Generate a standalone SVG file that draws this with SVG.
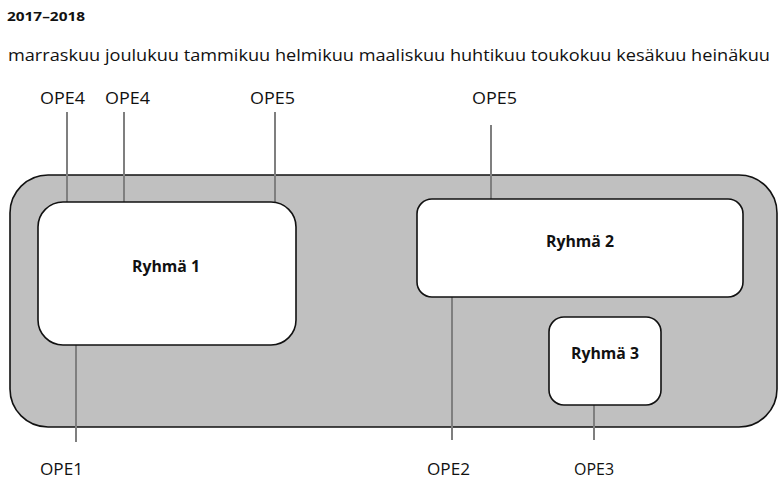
<svg xmlns="http://www.w3.org/2000/svg" width="780" height="481" viewBox="0 0 780 481">
<style>
text{font-family:"Open Sans","Liberation Sans",sans-serif;fill:#111}
.lbl{font-size:16px}
.box{fill:#fff;stroke:#111;stroke-width:1.6}
.bt{font-size:16px;font-weight:bold;text-anchor:middle}
.c{stroke:#7f7f7f;stroke-width:2;fill:none}
</style>
<rect width="780" height="481" fill="#fff"/>
<text x="7" y="21" font-size="13" font-weight="bold" textLength="78" lengthAdjust="spacingAndGlyphs">2017–2018</text>
<text x="8" y="61" font-size="17" textLength="762" lengthAdjust="spacingAndGlyphs">marraskuu joulukuu tammikuu helmikuu maaliskuu huhtikuu toukokuu kesäkuu heinäkuu</text>
<g id="container"><rect x="10" y="175" width="767" height="252" rx="38" ry="38" fill="#c0c0c0" stroke="#111" stroke-width="1.6"/></g>
<g id="connectors">
<line class="c" x1="67" y1="112" x2="67" y2="202"/>
<line class="c" x1="124" y1="112" x2="124" y2="202"/>
<line class="c" x1="275" y1="112" x2="275" y2="202"/>
<line class="c" x1="491" y1="125" x2="491" y2="199"/>
<line class="c" x1="76" y1="345" x2="76" y2="442"/>
<line class="c" x1="452" y1="297" x2="452" y2="440"/>
<line class="c" x1="594" y1="405" x2="594" y2="440"/>
</g>
<g id="ryhma1"><rect class="box" x="38" y="202" width="258" height="143" rx="25"/><text class="bt" x="166" y="272" textLength="68" lengthAdjust="spacingAndGlyphs">Ryhmä 1</text></g>
<g id="ryhma2"><rect class="box" x="417" y="199" width="326" height="98" rx="15"/><text class="bt" x="580" y="247" textLength="68" lengthAdjust="spacingAndGlyphs">Ryhmä 2</text></g>
<g id="ryhma3"><rect class="box" x="549" y="317" width="112" height="88" rx="15"/><text class="bt" x="605" y="359" textLength="68" lengthAdjust="spacingAndGlyphs">Ryhmä 3</text></g>
<g id="ope4a"><text class="lbl" x="40" y="104" textLength="45" lengthAdjust="spacingAndGlyphs">OPE4</text></g>
<g id="ope4b"><text class="lbl" x="105" y="104" textLength="45" lengthAdjust="spacingAndGlyphs">OPE4</text></g>
<g id="ope5a"><text class="lbl" x="250" y="104" textLength="45" lengthAdjust="spacingAndGlyphs">OPE5</text></g>
<g id="ope5b"><text class="lbl" x="472" y="104" textLength="45" lengthAdjust="spacingAndGlyphs">OPE5</text></g>
<g id="ope1"><text class="lbl" x="40" y="475" textLength="43" lengthAdjust="spacingAndGlyphs">OPE1</text></g>
<g id="ope2"><text class="lbl" x="427" y="475" textLength="43" lengthAdjust="spacingAndGlyphs">OPE2</text></g>
<g id="ope3"><text class="lbl" x="574" y="475" textLength="40" lengthAdjust="spacingAndGlyphs">OPE3</text></g>
</svg>
